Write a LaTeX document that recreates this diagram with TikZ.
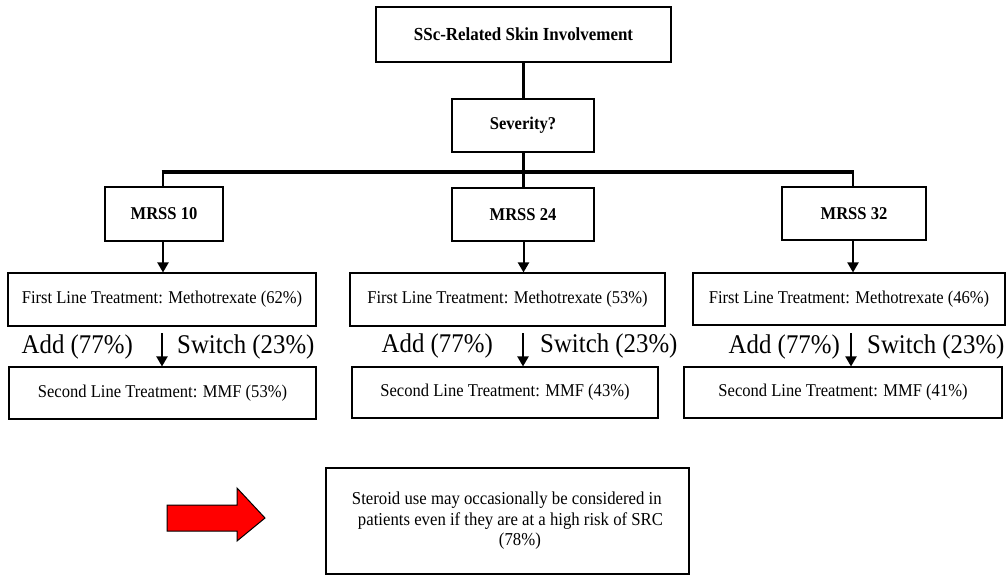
\documentclass[tikz,border=0pt]{standalone}
\usepackage{fontspec}
\setmainfont[FakeStretch=0.92]{Liberation Serif}
\usetikzlibrary{arrows.meta}
\tikzset{
  box/.style={draw=black, line width=1.1pt, rectangle, inner sep=0pt, align=center},
  bbox/.style={box, font=\bfseries\fontsize{18}{20}\selectfont},
  tbox/.style={box, font=\fontsize{18}{20}\selectfont},
  conn/.style={line width=2.6pt},
  arr/.style={line width=2pt, -{Triangle[length=10pt,width=11pt]}},
  lbl/.style={inner sep=0pt, font=\fontsize{27}{30}\selectfont},
}
\begin{document}
\begin{tikzpicture}[x=1pt,y=-1pt]
\useasboundingbox (0,0) rectangle (1008,574);
\node[bbox, minimum width=295pt, minimum height=55pt, font=\bfseries\fontsize{18.4}{20}\selectfont] (top) at (523.5,34.5) {SSc-Related Skin Involvement};
\node[bbox, minimum width=142pt, minimum height=53pt] (sev) at (523,125.5) {Severity?};
\node[bbox, minimum width=118pt, minimum height=54pt] (m1) at (164,214) {MRSS 10};
\node[bbox, minimum width=142pt, minimum height=53pt] (m2) at (523,214.5) {MRSS 24};
\node[bbox, minimum width=144pt, minimum height=53pt] (m3) at (854,213.5) {MRSS 32};
\coordinate (bl) at (163,172);
\coordinate (bm) at (523.5,172);
\coordinate (br) at (853,172);
\draw[conn] (top.south -| bm) -- (sev.north -| bm);
\draw[conn] (sev.south -| bm) -- (bm);
\draw[line width=4pt] ([xshift=-1.3pt]bl) -- ([xshift=1.3pt]br);
\draw[conn] (bl) -- (bl |- m1.north);
\draw[conn] (br) -- (br |- m3.north);
\draw[conn] (bm) -- (bm |- m2.north);

\node[tbox, minimum width=308pt, minimum height=53pt] (f1) at (162,299.5) {First Line Treatment: Methotrexate (62\%)};
\node[tbox, minimum width=315pt, minimum height=53pt] (f2) at (507.5,299.5) {First Line Treatment: Methotrexate (53\%)};
\node[tbox, minimum width=312pt, minimum height=52pt] (f3) at (849,299) {First Line Treatment: Methotrexate (46\%)};

\node[tbox, minimum width=307pt, minimum height=52pt] (s1) at (162.5,393) {Second Line Treatment: MMF (53\%)};
\node[tbox, minimum width=306pt, minimum height=51pt] (s2) at (505,392.5) {Second Line Treatment: MMF (43\%)};
\node[tbox, minimum width=318pt, minimum height=51pt] (s3) at (843,392.5) {Second Line Treatment: MMF (41\%)};

\draw[arr] (bl |- m1.south) -- (bl |- f1.north);
\draw[arr] (bm |- m2.south) -- (bm |- f2.north);
\draw[arr] (br |- m3.south) -- (br |- f3.north);

\coordinate (d1) at (162,333);
\coordinate (d2) at (523,333);
\coordinate (d3) at (851,333);
\draw[arr] (d1) -- (d1 |- s1.north);
\draw[arr] (d2) -- (d2 |- s2.north);
\draw[arr] (d3) -- (d3 |- s3.north);

\node[lbl, anchor=east] (a1) at (133,347) {Add (77\%)};
\node[lbl, anchor=west] (w1) at (177,347) {Switch (23\%)};
\node[lbl, anchor=east] (a2) at (493,346) {Add (77\%)};
\node[lbl, anchor=west] (w2) at (540,346) {Switch (23\%)};
\node[lbl, anchor=east] (a3) at (840,347) {Add (77\%)};
\node[lbl, anchor=west] (w3) at (867,347) {Switch (23\%)};

\node[box, minimum width=363pt, minimum height=106pt, align=left, font=\fontsize{18.2}{20.5}\selectfont] (note) at (507.5,521) {Steroid use may occasionally be considered in\\
\hspace*{6pt}patients even if they are at a high risk of SRC\\\hspace*{147pt}(78\%)};

\draw[fill=red, line width=1pt] (167,505) -- (237,505) -- (237,488) -- (265,518) -- (237,541) -- (237,531) -- (167,531) -- cycle;
\end{tikzpicture}
\end{document}
